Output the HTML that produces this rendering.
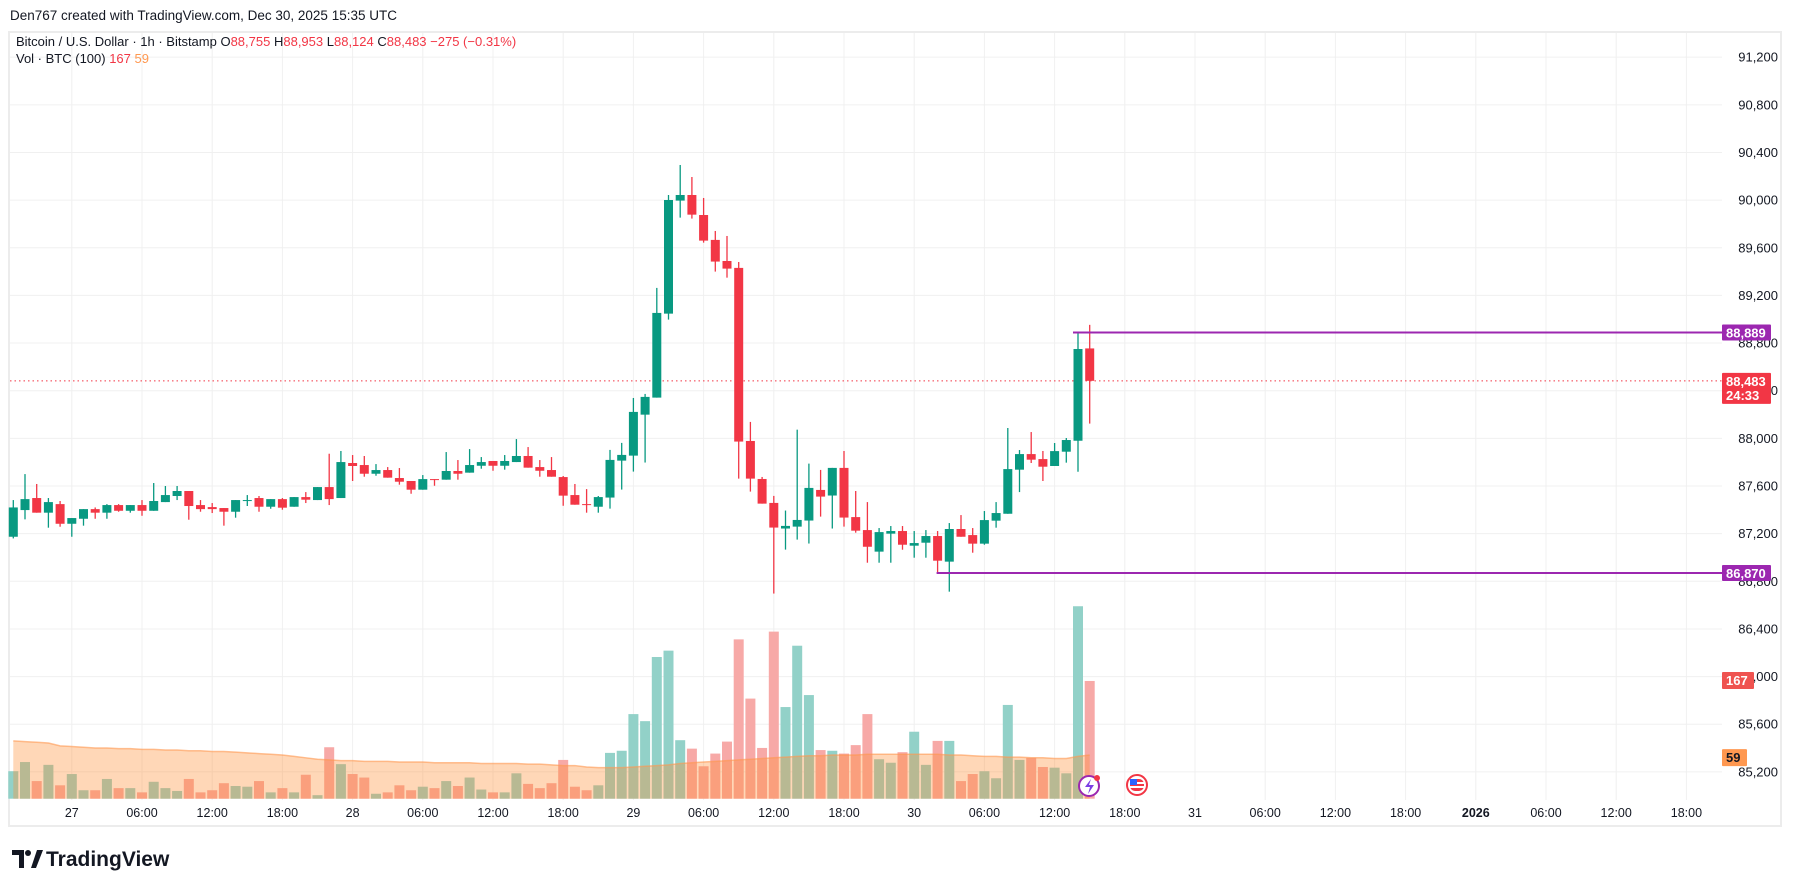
<!DOCTYPE html>
<html><head><meta charset="utf-8"><style>
body{margin:0;background:#fff;width:1793px;height:887px;overflow:hidden;font-family:"Liberation Sans",sans-serif}
svg{display:block}
</style></head><body>
<svg id="chart" width="1793" height="887" xmlns="http://www.w3.org/2000/svg" font-family="Liberation Sans, sans-serif">
<text x="10" y="20" font-size="13.5" fill="#131722">Den767 created with TradingView.com, Dec 30, 2025 15:35 UTC</text>
<rect x="9" y="32" width="1772" height="794" fill="none" stroke="#ececec" stroke-width="2"/>
<g id="grid"></g>
<g id="vol"></g>
<g id="candles"></g>
<g id="axis"></g>
<text x="16" y="46" font-size="13" fill="#131722">Bitcoin / U.S. Dollar · 1h · Bitstamp <tspan fill="#131722">O</tspan><tspan fill="#f23645">88,755</tspan> <tspan fill="#131722">H</tspan><tspan fill="#f23645">88,953</tspan> <tspan fill="#131722">L</tspan><tspan fill="#f23645">88,124</tspan> <tspan fill="#131722">C</tspan><tspan fill="#f23645">88,483</tspan> <tspan fill="#f23645">−275 (−0.31%)</tspan></text>
<text x="16" y="63" font-size="13" fill="#131722">Vol · BTC (100) <tspan fill="#f23645">167</tspan> <tspan fill="#ff9850">59</tspan></text>
<g><circle cx="1089" cy="786" r="10" fill="#fff" stroke="#9c27b0" stroke-width="2"/><path d="M1091 779 l-6 8 h5 l-2 7 l6 -9 h-5z" fill="#7b3fe4"/><circle cx="1097" cy="778" r="3" fill="#f23645"/></g>
<g><circle cx="1137" cy="785" r="10" fill="#fff" stroke="#f23645" stroke-width="2"/><rect x="1130" y="779" width="14" height="12" rx="5" fill="#f23645"/><rect x="1130" y="782" width="14" height="2" fill="#fff"/><rect x="1130" y="786" width="14" height="2" fill="#fff"/><rect x="1130" y="779" width="7" height="6" fill="#2962ff"/></g>
<g><path d="M12 850 h12 v18 h-5 v-13 h-7z" fill="#131722"/><circle cx="28" cy="853" r="3" fill="#131722"/><path d="M31 868 l6 -18 h6 l-7 18z" fill="#131722"/><text x="46" y="866" font-size="21" font-weight="bold" fill="#131722">TradingView</text></g>
</svg>
<script>
const opens=[87174,87398,87499,87376,87448,87283,87325,87406,87376,87440,87392,87440,87392,87465,87516,87558,87440,87423,87415,87384,87476,87499,87426,87490,87426,87507,87482,87591,87499,87793,87776,87703,87734,87667,87642,87569,87658,87653,87726,87712,87770,87810,87770,87801,87852,87759,87734,87675,87524,87448,87426,87503,87813,87855,88199,88342,89047,89996,90043,89875,89666,89489,89431,87978,87659,87458,87243,87259,87310,87567,87520,87752,87339,87230,87049,87200,87222,87099,87124,87180,86965,87239,87188,87116,87309,87367,87737,87868,87826,87768,87888,87980,88755];
const highs=[87482,87700,87617,87499,87474,87331,87406,87420,87448,87448,87440,87482,87625,87600,87600,87558,87482,87457,87415,87482,87524,87516,87490,87499,87507,87549,87591,87871,87894,87860,87852,87784,87759,87751,87642,87692,87658,87885,87818,87910,87843,87810,87860,87994,87927,87818,87843,87684,87617,87574,87516,87903,87962,88339,88373,89263,90043,90295,90194,90018,89741,89699,89481,88138,87676,87517,87394,88073,87788,87735,87752,87894,87558,87465,87247,87264,87264,87222,87230,87222,87289,87356,87247,87390,87465,88087,87902,88053,87894,87961,88003,88887,88953];
const lows=[87160,87320,87376,87250,87258,87174,87267,87325,87325,87384,87376,87350,87392,87465,87482,87317,87384,87373,87267,87334,87432,87384,87409,87401,87426,87457,87482,87440,87499,87642,87678,87686,87670,87611,87535,87569,87602,87653,87653,87712,87745,87728,87737,87801,87754,87678,87678,87434,87443,87376,87376,87410,87570,87721,87797,88342,88997,89853,89845,89643,89400,89349,87662,87553,87452,86697,87066,87150,87117,87343,87243,87259,87208,86956,86956,86956,87065,86998,86998,86864,86713,87174,87040,87107,87250,87367,87549,87793,87642,87768,87796,87720,88124];
const closes=[87420,87490,87376,87465,87283,87331,87406,87376,87440,87392,87440,87392,87474,87524,87558,87432,87406,87406,87384,87482,87482,87426,87490,87418,87507,87485,87591,87490,87801,87768,87703,87734,87670,87636,87569,87658,87653,87726,87703,87776,87801,87770,87810,87852,87754,87728,87678,87519,87443,87443,87507,87819,87861,88222,88348,89053,90001,90043,89878,89660,89484,89425,87973,87662,87452,87251,87265,87315,87584,87511,87752,87335,87225,87090,87213,87222,87107,87121,87180,86973,87239,87174,87116,87314,87373,87742,87868,87821,87762,87893,87986,88750,88483];
const volumes=[39,52,25,48,19,35,12,12,28,15,15,9,24,15,11,28,9,12,22,18,17,25,9,15,9,34,5,73,49,35,30,7,9,19,12,17,15,25,18,30,13,9,9,36,21,15,22,55,17,12,19,65,68,120,110,201,210,83,71,46,64,81,226,142,72,237,130,217,147,69,68,64,76,120,56,51,66,95,48,82,82,25,35,39,29,133,55,58,45,44,36,273,167];
const volumeMA=[82,81,80,79,75,74,73,72,72,71,71,70,70,69,69,68,68,67,67,66,65,64,63,62,60,58,56,55,54,54,53,53,53,52,52,52,51,51,51,51,50,50,50,50,49,49,48,47,47,45,44,44,44,45,46,47,48,50,51,52,53,54,55,56,57,58,59,60,61,61,62,62,62,63,63,63,63,63,63,63,62,62,61,60,60,59,59,58,58,57,57,60,62];
const priceTicks=[91200,90800,90400,90000,89600,89200,88800,88400,88000,87600,87200,86800,86400,86000,85600,85200];
const timeLabels=["27","06:00","12:00","18:00","28","06:00","12:00","18:00","29","06:00","12:00","18:00","30","06:00","12:00","18:00","31","06:00","12:00","18:00","2026","06:00","12:00","18:00"];
const timeLabelIdx=[5,11,17,23,29,35,41,47,53,59,65,71,77,83,89,95,101,107,113,119,125,131,137,143];
const hiLevel=88889, loLevel=86870, hiStart=91, loStart=79, lastPrice=88483;

const NS="http://www.w3.org/2000/svg";
const xS=i=>13.3+11.70*i;
const yP=p=>(91680-p)/8.395;
const VB=798.7, yV=v=>VB-v*0.705;
function mk(tag,attrs,parent){const e=document.createElementNS(NS,tag);for(const k in attrs)e.setAttribute(k,attrs[k]);parent.appendChild(e);return e;}
const grid=document.getElementById('grid'),vol=document.getElementById('vol'),cg=document.getElementById('candles'),ax=document.getElementById('axis');
priceTicks.forEach(p=>{const l=mk('line',{x1:10,x2:1722,y1:yP(p),y2:yP(p),stroke:'#f0f0f0','stroke-width':1},grid);


const t=mk('text',{x:1778,y:yP(p)+4.5,'text-anchor':'end','font-size':13,fill:'#131722'},ax);t.textContent=p.toLocaleString('en-US');

});
timeLabels.forEach((s,k)=>{const x=xS(timeLabelIdx[k]);const l=mk('line',{x1:x,x2:x,y1:33,y2:800,stroke:'#f0f0f0','stroke-width':1},grid);


const t=mk('text',{x:x,y:817,'text-anchor':'middle','font-size':12.5,fill:'#131722','font-weight':s==='2026'?'bold':'normal'},ax);t.textContent=s;

});
volumes.forEach((v,i)=>{const up=closes[i]>=opens[i];const r=mk('rect',{x:xS(i)-5,y:yV(v),width:10,height:v*0.705,fill:up?'#92d1c8':'#f7a9a7'},vol);

});
let d='M'+xS(0)+' '+VB;volumeMA.forEach((v,i)=>{d+=' L'+xS(i)+' '+yV(v);});d+=' L'+xS(volumeMA.length-1)+' '+VB+'Z';
const ma=mk('path',{d:d,fill:'rgba(255,140,50,0.35)',stroke:'none'},vol);


let d2='M'+volumeMA.map((v,i)=>xS(i)+' '+yV(v)).join(' L');
const mal=mk('path',{d:d2,fill:'none',stroke:'rgba(255,152,80,0.6)','stroke-width':1.5},vol);


const dl=mk('line',{x1:10,x2:1722,y1:yP(lastPrice),y2:yP(lastPrice),stroke:'#f23645','stroke-width':1,'stroke-dasharray':'1.5 3'},cg);


opens.forEach((o,i)=>{const c=closes[i],up=c>=o,col=up?'#089981':'#f23645',x=xS(i);
const w=mk('line',{x1:x,x2:x,y1:yP(highs[i]),y2:yP(lows[i]),stroke:col,'stroke-width':1.3},cg);


const top=yP(Math.max(o,c)),h=Math.max(1,Math.abs(yP(o)-yP(c)));
const b=mk('rect',{x:x-4.5,y:top,width:9,height:h,fill:col},cg);

});
const hl=mk('line',{x1:xS(hiStart)-5,x2:1722,y1:yP(hiLevel),y2:yP(hiLevel),stroke:'#9c27b0','stroke-width':2},cg);


const ll=mk('line',{x1:xS(loStart)-1,x2:1722,y1:yP(loLevel),y2:yP(loLevel),stroke:'#9c27b0','stroke-width':2},cg);


function tag(name,y,h,w,fill,lines,tc){const g=mk('g',{},ax);

mk('rect',{x:1722,y:y,width:w,height:h,fill:fill,rx:1},g);
lines.forEach((s,k)=>{const t=mk('text',{x:1726,y:y+13+k*14,'font-size':13,'font-weight':'bold',fill:tc},g);t.textContent=s;});}
tag('high-price-tag',yP(hiLevel)-8,16,49,'#9c27b0',[hiLevel.toLocaleString('en-US')],'#fff');
tag('low-price-tag',yP(loLevel)-8,16,49,'#9c27b0',[loLevel.toLocaleString('en-US')],'#fff');
tag('last-price-tag',yP(lastPrice)-8,31,49,'#f23645',[lastPrice.toLocaleString('en-US'),'24:33'],'#fff');
tag('volume-tag',yV(volumes[volumes.length-1])-9,17,32,'#ef5350',[String(volumes[volumes.length-1])],'#fff');
tag('volume-ma-tag',yV(59)-8,17,25,'#ff9850',['59'],'#131722');
</script>
</body></html>
